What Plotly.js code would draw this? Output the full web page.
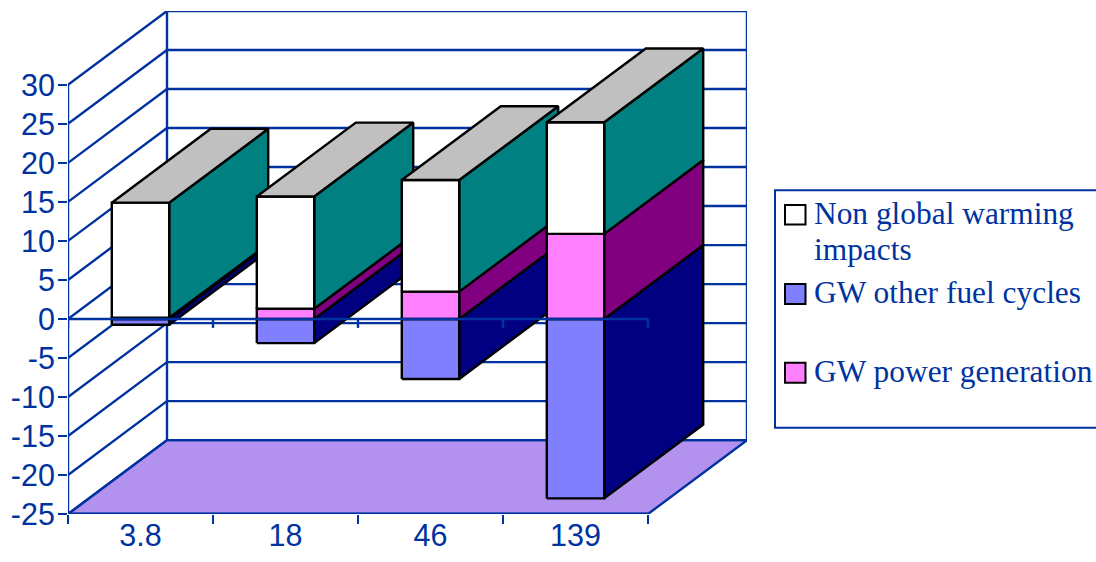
<!DOCTYPE html>
<html>
<head>
<meta charset="utf-8">
<script src="https://cdn.plot.ly/plotly-3.0.1.min.js"></script>
<style>html,body{margin:0;padding:0;background:#fff}#chart{width:1096px;height:562px}</style>
</head>
<body>
<div id="chart"></div>
<script>
// Stacked external-cost bars by plant capacity, drawn in an oblique 3D style.
const categories = ["3.8", "18", "46", "139"];
const gwPowerGeneration = [0.15, 1.3, 3.5, 10.9];
const nonGlobalWarming = [14.75, 14.4, 14.3, 14.3];
const gwOtherFuelCycles = [-0.75, -3.1, -7.7, -23];
const yTicks = [-25, -20, -15, -10, -5, 0, 5, 10, 15, 20, 25, 30];
const yTickLabels = ["-25", "-20", "-15", "-10", "-5", "0", "5", "10", "15", "20", "25", "30"];
const seriesNames = [["Non global warming", "impacts"], ["GW other fuel cycles"], ["GW power generation"]];

const BLUE = "#0033a0";
const W = 1096, H = 562;
const M = {l: 68, r: 349, t: 10.5, b: 47.5};
const DEPTH_X = 99 / 145;      // depth offset in category units
const DEPTH_Y = 74 / 7.818;    // depth offset in value units
const HALF_BAR = 0.198;
const X_MIN = -0.5, X_MAX = categories.length - 0.5;
const Y_MIN = yTicks[0], Y_MAX = yTicks[yTicks.length - 1];

const back = (x, v) => [x + DEPTH_X, v + DEPTH_Y];

function path(points) {
  const xs = [], ys = [];
  points.forEach(p => { xs.push(p ? p[0] : null); ys.push(p ? p[1] : null); });
  return {x: xs, y: ys};
}
function lineTrace(points, width) {
  return Object.assign(path(points), {
    type: "scatter", mode: "lines", cliponaxis: false, showlegend: false, hoverinfo: "skip",
    line: {color: BLUE, width: width || 2.4}
  });
}
function polygon(points, fill, lineColor) {
  const closed = points.concat([points[0]]);
  return Object.assign(path(closed), {
    type: "scatter", mode: "lines", fill: "toself", fillcolor: fill, cliponaxis: false,
    showlegend: false, hoverinfo: "skip", line: {color: lineColor || "#000", width: 2.4}
  });
}

const traces = [];

// Floor
traces.push(polygon([[X_MIN, Y_MIN], [X_MAX, Y_MIN], back(X_MAX, Y_MIN), back(X_MIN, Y_MIN)], "#b391ee", BLUE));

// Side-wall and back-wall gridlines, one pair for each value tick
const grid = [];
yTicks.forEach(v => {
  grid.push([X_MIN, v], back(X_MIN, v), back(X_MAX, v), null);
});
traces.push(lineTrace(grid));

// Wall edges and the left value axis
traces.push(lineTrace([[X_MIN, Y_MIN], [X_MIN, Y_MAX], null,
  back(X_MIN, Y_MIN), back(X_MIN, Y_MAX), null,
  back(X_MAX, Y_MIN), back(X_MAX, Y_MAX)]));

// One solid segment: side face and front face
function segment(xc, v0, v1, frontColor, sideColor) {
  const xl = xc - HALF_BAR, xr = xc + HALF_BAR;
  traces.push(polygon([[xr, v0], back(xr, v0), back(xr, v1), [xr, v1]], sideColor));
  traces.push(polygon([[xl, v0], [xr, v0], [xr, v1], [xl, v1]], frontColor));
}

categories.forEach((c, i) => {
  const a = gwPowerGeneration[i], b = a + nonGlobalWarming[i], n = gwOtherFuelCycles[i];
  segment(i, n, 0, "#8080ff", "#000080");
  segment(i, 0, a, "#ff80ff", "#800080");
  segment(i, a, b, "#ffffff", "#008080");
  const xl = i - HALF_BAR, xr = i + HALF_BAR;
  traces.push(polygon([[xl, b], [xr, b], back(xr, b), back(xl, b)], "#c0c0c0"));
});

// Category axis line at zero with its boundary ticks, on top of the bars
const zeroAxis = [[X_MIN, 0], [X_MAX, 0], null];
categories.forEach((c, i) => { zeroAxis.push([i + 0.5, 0], [i + 0.5, -1.15], null); });
zeroAxis.push([X_MIN, 0], [X_MIN, -1.15]);
traces.push(lineTrace(zeroAxis));

// Front edge of the floor
traces.push(lineTrace([[X_MIN, Y_MIN], [X_MAX, Y_MIN]], 3));

// Key drawn in page pixels
const plotW = W - M.l - M.r, plotH = H - M.t - M.b;
const px = x => (x - M.l) / plotW;
const py = y => (H - M.b - y) / plotH;
function pageRect(x0, y0, x1, y1, fill, color) {
  return {type: "rect", xref: "paper", yref: "paper", x0: px(x0), x1: px(x1), y0: py(y0), y1: py(y1),
    fillcolor: fill, line: {color: color, width: 2}};
}
function pageText(text, x, y) {
  return {text: text, xref: "paper", yref: "paper", x: px(x), y: py(y), xanchor: "left", yanchor: "middle",
    showarrow: false, borderpad: 0, font: {family: '"Liberation Serif", serif', size: 31.4, color: BLUE}};
}
const shapes = [
  pageRect(775, 190, 1112, 428, "rgba(255,255,255,0)", BLUE),
  pageRect(785, 205, 805.5, 224.5, "#ffffff", "#000"),
  pageRect(785, 284, 805.5, 304, "#8080ff", "#000"),
  pageRect(785, 363, 805.5, 383, "#ff80ff", "#000")
];
const annotations = [
  pageText(seriesNames[0][0], 812.5, 213.5),
  pageText(seriesNames[0][1], 812.5, 249.5),
  pageText(seriesNames[1][0], 812.5, 292.5),
  pageText(seriesNames[2][0], 812.5, 371.5)
];

const layout = {
  width: W, height: H, margin: Object.assign({pad: 0, autoexpand: false}, M),
  paper_bgcolor: "#fff", plot_bgcolor: "rgba(0,0,0,0)", showlegend: false,
  font: {family: '"Liberation Sans", Arial, sans-serif', size: 30.5, color: BLUE},
  xaxis: {
    range: [X_MIN, X_MAX + DEPTH_X], showgrid: false, zeroline: false, showline: false,
    tickmode: "array", tickvals: categories.map((c, i) => i), ticktext: categories,
    ticks: "", ticklen: 0, ticklabelstandoff: 9.5,
    minor: {tickmode: "array", tickvals: [-0.5, 0.5, 1.5, 2.5, 3.5], ticks: "outside", ticklen: 9, tickwidth: 2.4, tickcolor: BLUE, showgrid: false}
  },
  yaxis: {
    range: [Y_MIN, Y_MAX + DEPTH_Y], showgrid: false, zeroline: false, showline: false,
    tickmode: "array", tickvals: yTicks, ticktext: yTickLabels, ticklabelstandoff: -3,
    ticks: "outside", ticklen: 9, tickwidth: 2.4, tickcolor: BLUE
  },
  shapes: shapes, annotations: annotations
};

Plotly.newPlot("chart", traces, layout, {displayModeBar: false, staticPlot: true});
</script>
</body>
</html>
